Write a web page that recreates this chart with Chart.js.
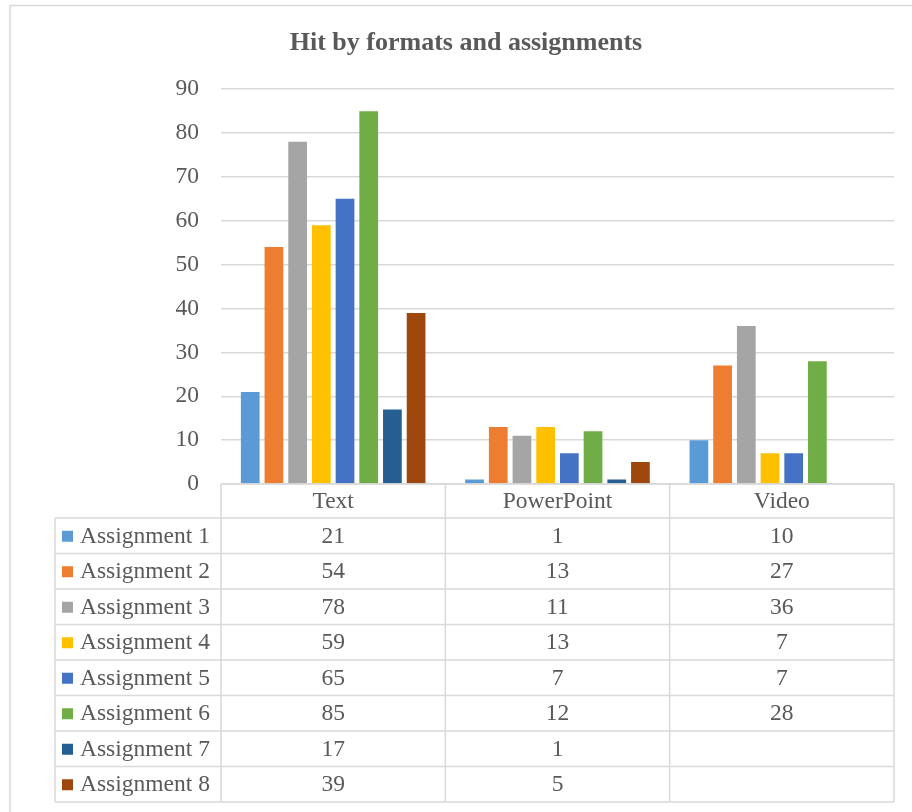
<!DOCTYPE html>
<html>
<head>
<meta charset="utf-8">
<script src="https://cdn.jsdelivr.net/npm/chart.js@4/dist/chart.umd.min.js"></script>
<style>
html,body{margin:0;padding:0;background:#fff;}
#wrap{width:912px;height:812px;}
</style>
</head>
<body>
<div id="wrap"><canvas id="c" width="912" height="812"></canvas></div>
<script>
const categories = ["Text", "PowerPoint", "Video"];
const seriesNames = ["Assignment 1","Assignment 2","Assignment 3","Assignment 4","Assignment 5","Assignment 6","Assignment 7","Assignment 8"];
const assignment1 = [21, 1, 10];
const assignment2 = [54, 13, 27];
const assignment3 = [78, 11, 36];
const assignment4 = [59, 13, 7];
const assignment5 = [65, 7, 7];
const assignment6 = [85, 12, 28];
const assignment7 = [17, 1, null];
const assignment8 = [39, 5, null];
const yTicks = [0,10,20,30,40,50,60,70,80,90];
const colors = ["#5B9BD5","#ED7D31","#A5A5A5","#FFC000","#4472C4","#70AD47","#255E91","#9E480E"];

const allSeries = [assignment1,assignment2,assignment3,assignment4,assignment5,assignment6,assignment7,assignment8];
const FONT = "'Liberation Serif','Times New Roman',serif";
const TXT = "#595959";
const LINE = "#D9D9D9";
const BODY_SIZE = 23.5;

const tablePlugin = {
  id: 'dataTable',
  afterDraw(chart) {
    const ctx = chart.ctx;
    const ca = chart.chartArea;
    const x = chart.scales.x;
    const n = categories.length;
    const colW = (ca.right - ca.left) / n;
    const top = ca.bottom;
    const headH = 34;
    const rowH = 35.5;
    const tableLeft = 55;
    const bottom = top + headH + rowH * allSeries.length;
    ctx.save();
    // outer chart border
    ctx.strokeStyle = LINE;
    ctx.lineWidth = 1.5;
    ctx.beginPath();
    ctx.moveTo(10, 812); ctx.lineTo(10, 5.5); ctx.lineTo(912, 5.5);
    ctx.stroke();
    // table lines
    ctx.lineWidth = 1.5;
    ctx.beginPath();
    ctx.moveTo(ca.left, top); ctx.lineTo(ca.right, top);
    for (let i = 0; i <= allSeries.length; i++) {
      const y = top + headH + rowH * i;
      ctx.moveTo(tableLeft, y); ctx.lineTo(ca.right, y);
    }
    ctx.moveTo(tableLeft, top + headH); ctx.lineTo(tableLeft, bottom);
    for (let i = 0; i <= n; i++) {
      const xx = ca.left + colW * i;
      ctx.moveTo(xx, top); ctx.lineTo(xx, bottom);
    }
    ctx.stroke();
    // header text
    ctx.fillStyle = TXT;
    ctx.font = BODY_SIZE + "px " + FONT;
    ctx.textAlign = "center";
    ctx.textBaseline = "middle";
    for (let i = 0; i < n; i++) {
      const cx = x.getPixelForTick(i);
      ctx.fillText(categories[i], cx, top + headH / 2 + 1);
    }
    // rows
    for (let r = 0; r < allSeries.length; r++) {
      const cy = top + headH + rowH * r + rowH / 2 + 1;
      ctx.fillStyle = colors[r];
      ctx.fillRect(62, cy - 6, 11, 11);
      ctx.fillStyle = TXT;
      ctx.textAlign = "left";
      ctx.fillText(seriesNames[r], 80, cy);
      ctx.textAlign = "center";
      for (let i = 0; i < n; i++) {
        const v = allSeries[r][i];
        if (v !== null && v !== undefined) {
          ctx.fillText(String(v), x.getPixelForTick(i), cy);
        }
      }
    }
    ctx.restore();
  }
};

new Chart(document.getElementById('c'), {
  type: 'bar',
  data: {
    labels: categories,
    datasets: allSeries.map((d, i) => ({
      label: seriesNames[i],
      data: d,
      backgroundColor: colors[i],
      borderWidth: 0,
      categoryPercentage: 0.845,
      barPercentage: 0.79
    }))
  },
  options: {
    responsive: false,
    animation: false,
    devicePixelRatio: 1,
    layout: { padding: { left: 38, right: 18, top: 0, bottom: 328 } },
    plugins: {
      legend: { display: false },
      tooltip: { enabled: false },
      title: {
        display: true,
        text: "Hit by formats and assignments",
        color: TXT,
        font: { family: FONT, size: 26, weight: 'bold' },
        padding: { top: 28, bottom: 30 }
      }
    },
    scales: {
      x: {
        display: false,
        grid: { display: false }
      },
      y: {
        min: 0,
        max: 90,
        afterFit(scale) { scale.width = 183; },
        afterBuildTicks(scale) { scale.ticks = yTicks.map(v => ({ value: v })); },
        border: { display: false },
        grid: { color: LINE, lineWidth: 1.5, drawTicks: false },
        ticks: {
          color: TXT,
          font: { family: FONT, size: BODY_SIZE },
          padding: 22
        }
      }
    }
  },
  plugins: [tablePlugin]
});
</script>
</body>
</html>
